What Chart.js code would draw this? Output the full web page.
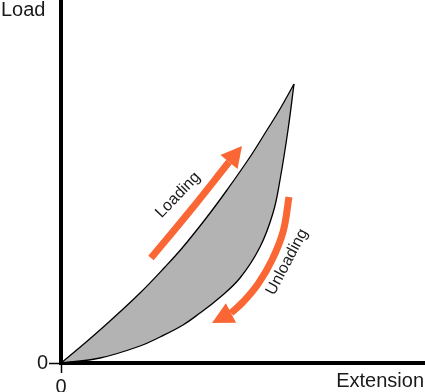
<!DOCTYPE html>
<html>
<head>
<meta charset="utf-8">
<script src="https://cdn.jsdelivr.net/npm/chart.js@4/dist/chart.umd.min.js"></script>
<style>
html, body { margin: 0; padding: 0; background: #fff; }
#wrap { width: 425px; height: 392px; }
</style>
</head>
<body>
<div id="wrap"><canvas id="main"></canvas></div>
<script>
// hysteresis loop, values (arbitrary units)
var loadingX = [0, 24, 49, 79, 104, 122, 146, 166, 189, 206, 219, 233];
var loadingY = [0, 20, 42, 70, 96, 116, 146, 173, 206, 233, 254, 279];
var unloadingX = [0, 39, 79, 99, 122, 139, 157, 179, 199, 212, 219, 227, 233];
var unloadingY = [0, 5, 17, 26, 38, 50, 64, 85, 116, 150, 183, 233, 279];

// direction arrows: shaft points, then the tip of the head
var loadArrowX = [90, 129, 168];
var loadArrowY = [105, 152, 201];
var loadArrowTip = [181, 217];
var unloadArrowX = [228, 222, 211, 197, 182, 170];
var unloadArrowY = [166, 131, 103, 79, 61, 50];
var unloadArrowTip = [151, 40];

var xTicks = [0];
var yTicks = [0];
var xMax = 364, yMax = 363;

var FONT = "'Liberation Sans', Arial, sans-serif";
var ORANGE = '#fa6634';

function toPoints(xs, ys){
	var pts = [];
	for (var i=0; i<xs.length; i++){
		pts.push({x: xs[i], y: ys[i]});
	}
	return pts;
}

function drawHead(ctx, xs, ys, ax, ay, tip){
	var n = ax.length - 1;
	var bx = xs.getPixelForValue(ax[n]), by = ys.getPixelForValue(ay[n]);
	var tx = xs.getPixelForValue(tip[0]), ty = ys.getPixelForValue(tip[1]);
	var dx = tx - bx, dy = ty - by;
	var len = Math.sqrt(dx*dx + dy*dy);
	var px = -dy / len * 11, py = dx / len * 11;
	ctx.save();
	ctx.fillStyle = ORANGE;
	ctx.beginPath();
	ctx.moveTo(bx + px, by + py);
	ctx.lineTo(tx, ty);
	ctx.lineTo(bx - px, by - py);
	ctx.closePath();
	ctx.fill();
	ctx.restore();
}

function drawRotated(ctx, text, x, y, angle){
	ctx.save();
	ctx.translate(x, y);
	ctx.rotate(angle * Math.PI / 180);
	ctx.font = '16px ' + FONT;
	ctx.fillStyle = '#1a1a1a';
	ctx.textAlign = 'center';
	ctx.textBaseline = 'middle';
	ctx.fillText(text, 0, 0);
	ctx.restore();
}

function noPadding(s){
	s.paddingTop = 0;
	s.paddingBottom = 0;
	s.paddingLeft = 0;
	s.paddingRight = 0;
}

var annotate = {
	id: 'annotate',
	afterDatasetsDraw: function(chart){
		var ctx = chart.ctx,
			xs = chart.scales.x,
			ys = chart.scales.y;
		drawHead(ctx, xs, ys, loadArrowX, loadArrowY, loadArrowTip);
		drawHead(ctx, xs, ys, unloadArrowX, unloadArrowY, unloadArrowTip);
		drawRotated(ctx, 'Loading', xs.getPixelForValue(117), ys.getPixelForValue(168), -46);
		drawRotated(ctx, 'Unloading', xs.getPixelForValue(226), ys.getPixelForValue(101), -62);
	},
	afterDraw: function(chart){
		var ctx = chart.ctx;
		ctx.save();
		ctx.font = '20px ' + FONT;
		ctx.fillStyle = '#1a1a1a';
		ctx.textBaseline = 'alphabetic';
		ctx.textAlign = 'left';
		ctx.fillText('Load', 1, 16);
		ctx.textAlign = 'right';
		ctx.fillText('Extension', 424, 387);
		ctx.restore();
	}
};

var ctx = document.getElementById('main').getContext('2d');
var chart = new Chart(ctx, {
	type: 'scatter',
	data: {
		datasets: [{
			data: toPoints(loadingX, loadingY),
			showLine: true,
			borderColor: '#000',
			borderWidth: 1.3,
			backgroundColor: '#b3b3b3',
			fill: '+1',
			tension: 0.4,
			pointRadius: 0
		}, {
			data: toPoints(unloadingX, unloadingY),
			showLine: true,
			borderColor: '#000',
			borderWidth: 1.3,
			fill: false,
			tension: 0.4,
			pointRadius: 0
		}, {
			data: toPoints(loadArrowX, loadArrowY),
			showLine: true,
			borderColor: ORANGE,
			borderWidth: 7,
			borderCapStyle: 'butt',
			fill: false,
			tension: 0.4,
			pointRadius: 0
		}, {
			data: toPoints(unloadArrowX, unloadArrowY),
			showLine: true,
			borderColor: ORANGE,
			borderWidth: 7,
			borderCapStyle: 'butt',
			fill: false,
			tension: 0.4,
			pointRadius: 0
		}]
	},
	options: {
		responsive: true,
		maintainAspectRatio: false,
		animation: false,
		layout: { padding: 0 },
		plugins: {
			legend: { display: false },
			tooltip: { enabled: false },
			filler: { drawTime: 'beforeDatasetsDraw' }
		},
		scales: {
			x: {
				type: 'linear',
				min: 0,
				max: xMax,
				afterBuildTicks: function(s){ s.ticks = xTicks.map(function(v){ return {value: v}; }); },
				afterFit: function(s){ s.height = 29; noPadding(s); },
				border: { color: '#000', width: 4 },
				grid: { drawOnChartArea: false, tickLength: 10, tickColor: '#000', tickWidth: 1.5 },
				ticks: { color: '#1a1a1a', padding: 2, maxRotation: 0, font: { family: FONT, size: 20 } }
			},
			y: {
				type: 'linear',
				min: 0,
				max: yMax,
				afterBuildTicks: function(s){ s.ticks = yTicks.map(function(v){ return {value: v}; }); },
				afterFit: function(s){ s.width = 61; noPadding(s); },
				border: { color: '#000', width: 4 },
				grid: { drawOnChartArea: false, tickLength: 12, tickColor: '#000', tickWidth: 1.5 },
				ticks: { color: '#1a1a1a', padding: 1, font: { family: FONT, size: 20 } }
			}
		}
	},
	plugins: [annotate]
});
</script>
</body>
</html>
